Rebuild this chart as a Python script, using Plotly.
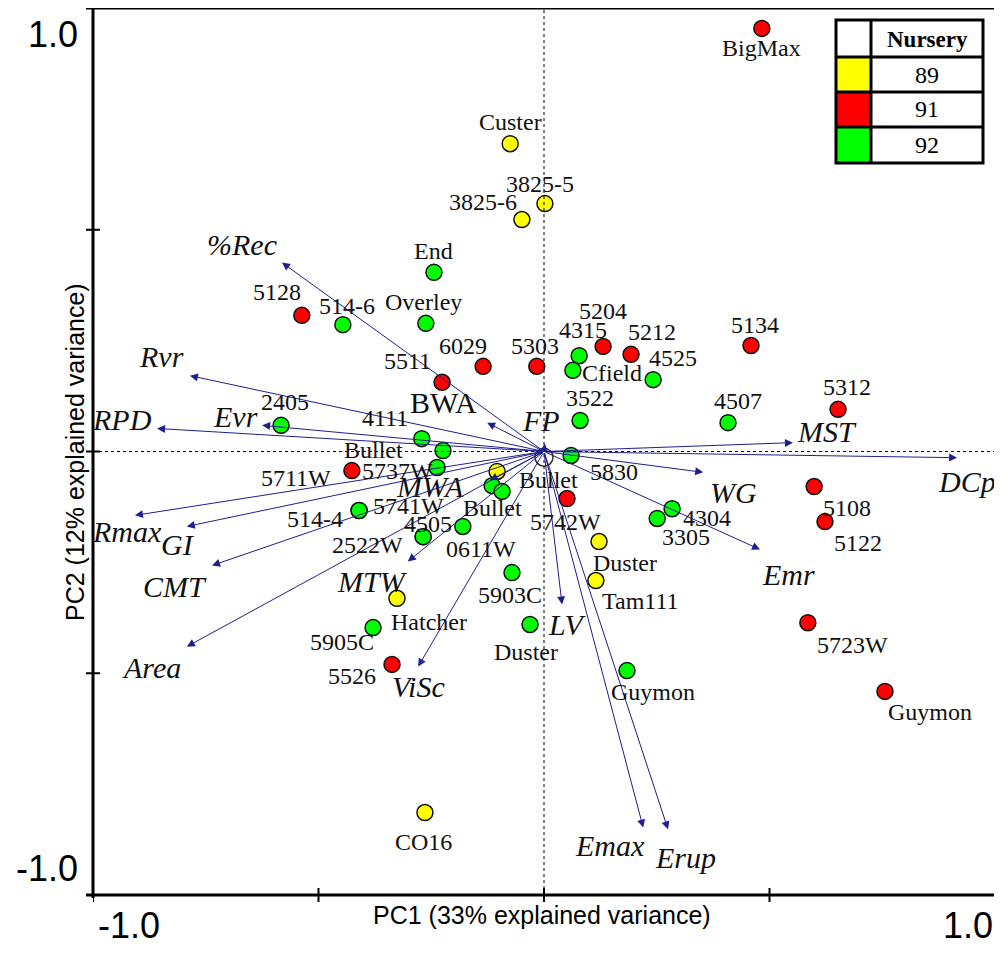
import plotly.graph_objects as go

# ---------------- DATA ----------------
point_names = [
    "Custer", "3825-5", "3825-6", "Bullet", "Duster", "Tam111", "Hatcher", "CO16",
    "BigMax", "5128", "6029", "5303", "5511", "5204", "5212", "5134", "5312",
    "5711W", "5742W", "5108", "5122", "5723W", "Guymon", "5526",
    "End", "514-6", "Overley", "4315", "Cfield", "4525", "3522", "4507", "5830",
    "4304", "3305", "2405", "4111", "Bullet", "5737W", "Bullet", "Bullet",
    "5741W", "514-4", "4505", "2522W", "0611W", "5903C", "5905C", "Duster", "Guymon",
]
point_x = [
    -0.075, 0.002, -0.049, -0.104, 0.122, 0.115, -0.326, -0.264,
    0.483, -0.537, -0.135, -0.016, -0.226, 0.131, 0.193, 0.459, 0.652,
    -0.426, 0.051, 0.599, 0.623, 0.585, 0.756, -0.337,
    -0.244, -0.446, -0.262, 0.078, 0.064, 0.242, 0.080, 0.408, 0.060,
    0.284, 0.251, -0.583, -0.271, -0.224, -0.237, -0.115, -0.093,
    -0.410, -0.410, -0.268, -0.268, -0.180, -0.071, -0.379, -0.031, 0.184,
]
point_y = [
    0.694, 0.559, 0.523, -0.045, -0.203, -0.291, -0.331, -0.814,
    0.954, 0.307, 0.192, 0.192, 0.156, 0.237, 0.219, 0.239, 0.095,
    -0.043, -0.106, -0.079, -0.158, -0.386, -0.541, -0.480,
    0.404, 0.286, 0.289, 0.216, 0.183, 0.162, 0.070, 0.065, -0.009,
    -0.129, -0.151, 0.059, 0.029, 0.002, -0.036, -0.077, -0.090,
    -0.133, -0.133, -0.192, -0.192, -0.169, -0.273, -0.397, -0.390, -0.494,
]
point_nursery = (["89"] * 8) + (["91"] * 16) + (["92"] * 26)

nursery_levels = ["89", "91", "92"]
nursery_colors = ["#FFFF00", "#FF0000", "#00FF00"]

var_names = ["%Rec", "Rvr", "RPD", "Evr", "BWA", "FP", "MWA", "MST", "DCp", "WG",
             "Emr", "Emax", "Erup", "LV", "ViSc", "MTW", "Area", "CMT", "GI", "Rmax"]
var_x = [-0.581, -0.785, -0.858, -0.625, -0.126, 0.002, -0.120, 0.552, 0.916, 0.353,
         0.479, 0.220, 0.275, 0.040, -0.279, -0.302, -0.792, -0.736, -0.792, -0.907]
var_y = [0.426, 0.171, 0.052, 0.059, 0.065, 0.018, -0.065, 0.020, -0.014, -0.047,
         -0.221, -0.848, -0.852, -0.345, -0.485, -0.248, -0.440, -0.257, -0.169, -0.144]

x_title = "PC1 (33% explained variance)"
y_title = "PC2 (12% explained variance)"
axis_ticks = [-1.0, -0.5, 0.0, 0.5, 1.0]

# ---------------- STYLE (label offsets in px: dx right, dy down) ----------------
point_label_off = [
    (0, -22), (-5, -20), (-39, -18), (51, 9), (26, 21), (45, 20), (32, 24), (-1, 29),
    (0, 20), (-25, -23), (-20, -20), (-2, -20), (-35, -21), (0, -35), (21, -22), (4, -21), (9, -22),
    (-56, 7), (-2, 23), (33, 21), (33, 21), (45, 22), (45, 21), (-40, 12),
    (0, -21), (4, -19), (-2, -21), (4, -26), (39, 3), (20, -22), (10, -22), (10, -22), (43, 17),
    (35, 9), (29, 19), (4, -23), (-37, -21), (-69, -1), (-40, 4), None, (-10, 17),
    (49, -4), (-44, 9), (5, -13), (-56, 8), (18, 23), (-2, 22), (-31, 14), (-4, 28), (26, 21),
]
var_label_off = [(-40, -18), (-28, -19), (-35, -9), (-27, -9), (-44, -20), (-4, -23), (-60, 6),
                 (34, -11), (10, 24), (30, 20), (28, 25), (-33, 18), (17, 28), (5, 20), (0, 20),
                 (-35, 20), (-35, 21), (-37, 21), (-9, 18), (-8, 16)]
var_upright = {"BWA"}

# the page body has an 8px margin; figure sized/placed so the plot area lands at
# screen x 93..995, y 8..895
OFF = 8
W, H = 994, 947
ML, MR, MT, MB = 85, 7, 0, 60
PW = W - ML - MR
PH = H - MT - MB


def pxx(px):  # screen px -> paper x
    return (px - OFF - ML) / PW


def pxy(py):  # screen px -> paper y
    return (H - MB - (py - OFF)) / PH


SERIF = "Times New Roman, Liberation Serif, serif"
SANS = "Arial, Liberation Sans, sans-serif"
ARROW_COL = "#1f1f8f"
TXT = "#111111"

fig = go.Figure()

for lev, col in zip(nursery_levels, nursery_colors):
    idx = [i for i, n in enumerate(point_nursery) if n == lev]
    fig.add_trace(go.Scatter(
        x=[point_x[i] for i in idx], y=[point_y[i] for i in idx],
        text=[point_names[i] for i in idx], hoverinfo="text",
        mode="markers", showlegend=False,
        marker=dict(size=16, color=col, line=dict(color="#111111", width=1.5)),
    ))

# origin marker
fig.add_trace(go.Scatter(x=[0.0], y=[-0.013], mode="markers", showlegend=False, hoverinfo="skip",
                         marker=dict(size=18, color="rgba(0,0,0,0)", line=dict(color="#333333", width=1.5))))

annotations = []
for name, vx, vy, off in zip(var_names, var_x, var_y, var_label_off):
    annotations.append(dict(x=vx, y=vy, ax=0, ay=0, xref="x", yref="y", axref="x", ayref="y",
                            showarrow=True, arrowhead=2, arrowsize=1.6, arrowwidth=1,
                            arrowcolor=ARROW_COL, text=""))
    txt = name if name in var_upright else "<i>" + name + "</i>"
    annotations.append(dict(x=vx, y=vy, xref="x", yref="y", text=txt, showarrow=False,
                            xshift=off[0], yshift=-off[1], xanchor="center", yanchor="middle",
                            font=dict(family=SERIF, size=30, color=TXT)))

for name, x, y, off in zip(point_names, point_x, point_y, point_label_off):
    if off is None:
        continue
    annotations.append(dict(x=x, y=y, xref="x", yref="y", text=name, showarrow=False,
                            xshift=off[0], yshift=-off[1], xanchor="center", yanchor="middle",
                            font=dict(family=SERIF, size=24, color=TXT)))

annotations += [
    dict(x=pxx(80), y=1.0, xref="paper", yref="y", text="1.0", showarrow=False,
         xanchor="right", yanchor="middle", yshift=-26, font=dict(family=SANS, size=36, color="black")),
    dict(x=pxx(80), y=-1.0, xref="paper", yref="y", text="-1.0", showarrow=False,
         xanchor="right", yanchor="middle", yshift=27, font=dict(family=SANS, size=36, color="black")),
    dict(x=-1.0, y=0, xref="x", yref="paper", text="-1.0", showarrow=False,
         xanchor="center", yanchor="middle", xshift=36, yshift=-30, font=dict(family=SANS, size=36, color="black")),
    dict(x=1.0, y=0, xref="x", yref="paper", text="1.0", showarrow=False,
         xanchor="center", yanchor="middle", xshift=-27, yshift=-30, font=dict(family=SANS, size=36, color="black")),
    dict(x=pxx(542), y=0, xref="paper", yref="paper", text=x_title, showarrow=False,
         xanchor="center", yanchor="middle", yshift=-20, font=dict(family=SANS, size=25, color="black")),
    dict(x=pxx(75), y=pxy(452), xref="paper", yref="paper", text=y_title, showarrow=False, textangle=-90,
         xanchor="center", yanchor="middle", font=dict(family=SANS, size=25, color="black")),
]

shapes = []
shapes.append(dict(type="line", xref="x", yref="y", x0=-1, x1=1, y0=0, y1=0,
                   line=dict(color="black", width=1, dash="dot")))
shapes.append(dict(type="line", xref="x", yref="y", x0=0, x1=0, y0=-1, y1=1,
                   line=dict(color="black", width=1, dash="dot")))
shapes += [
    dict(type="line", xref="paper", yref="paper", x0=0, x1=0, y0=pxy(898), y1=pxy(6), line=dict(color="black", width=3)),
    dict(type="line", xref="paper", yref="paper", x0=pxx(86), x1=pxx(997), y0=0, y1=0, line=dict(color="black", width=3)),
    dict(type="line", xref="paper", yref="paper", x0=pxx(86), x1=1, y0=1, y1=1, line=dict(color="black", width=3)),
    dict(type="line", xref="paper", yref="paper", x0=1, x1=1, y0=0, y1=1, line=dict(color="black", width=1.5)),
]
for t in axis_ticks:
    shapes.append(dict(type="line", xref="x", yref="paper", x0=t, x1=t, y0=pxy(902), y1=pxy(888),
                       line=dict(color="black", width=2)))
    shapes.append(dict(type="line", xref="paper", yref="y", x0=pxx(86), x1=pxx(100), y0=t, y1=t,
                       line=dict(color="black", width=2)))

# legend table
L, R, C = 836, 983, 871
rows = [20, 57, 92, 127, 163]
for i, col in enumerate(nursery_colors):
    shapes.append(dict(type="rect", xref="paper", yref="paper", x0=pxx(L), x1=pxx(C),
                       y0=pxy(rows[i + 2]), y1=pxy(rows[i + 1]), fillcolor=col, line=dict(width=0)))
shapes.append(dict(type="rect", xref="paper", yref="paper", x0=pxx(L), x1=pxx(R), y0=pxy(rows[-1]),
                   y1=pxy(rows[0]), line=dict(color="black", width=3)))
shapes.append(dict(type="line", xref="paper", yref="paper", x0=pxx(C), x1=pxx(C), y0=pxy(rows[-1]),
                   y1=pxy(rows[0]), line=dict(color="black", width=3)))
for r in rows[1:-1]:
    shapes.append(dict(type="line", xref="paper", yref="paper", x0=pxx(L), x1=pxx(R), y0=pxy(r), y1=pxy(r),
                       line=dict(color="black", width=3)))
annotations.append(dict(x=pxx((C + R) / 2), y=pxy(39), xref="paper", yref="paper", text="<b>Nursery</b>",
                        showarrow=False, xanchor="center", yanchor="middle",
                        font=dict(family=SERIF, size=23, color="black")))
for i, lev in enumerate(nursery_levels):
    annotations.append(dict(x=pxx((C + R) / 2), y=pxy((rows[i + 1] + rows[i + 2]) / 2), xref="paper",
                            yref="paper", text=lev, showarrow=False, xanchor="center", yanchor="middle",
                            font=dict(family=SERIF, size=24, color="black")))

fig.update_layout(
    width=W, height=H,
    margin=dict(l=ML, r=MR, t=MT, b=MB, pad=0),
    paper_bgcolor="white", plot_bgcolor="white",
    xaxis=dict(range=[-1, 1], showgrid=False, zeroline=False, showticklabels=False, ticks="", showline=False),
    yaxis=dict(range=[-1, 1], showgrid=False, zeroline=False, showticklabels=False, ticks="", showline=False),
    annotations=annotations, shapes=shapes,
)

fig.write_html("out.html")
